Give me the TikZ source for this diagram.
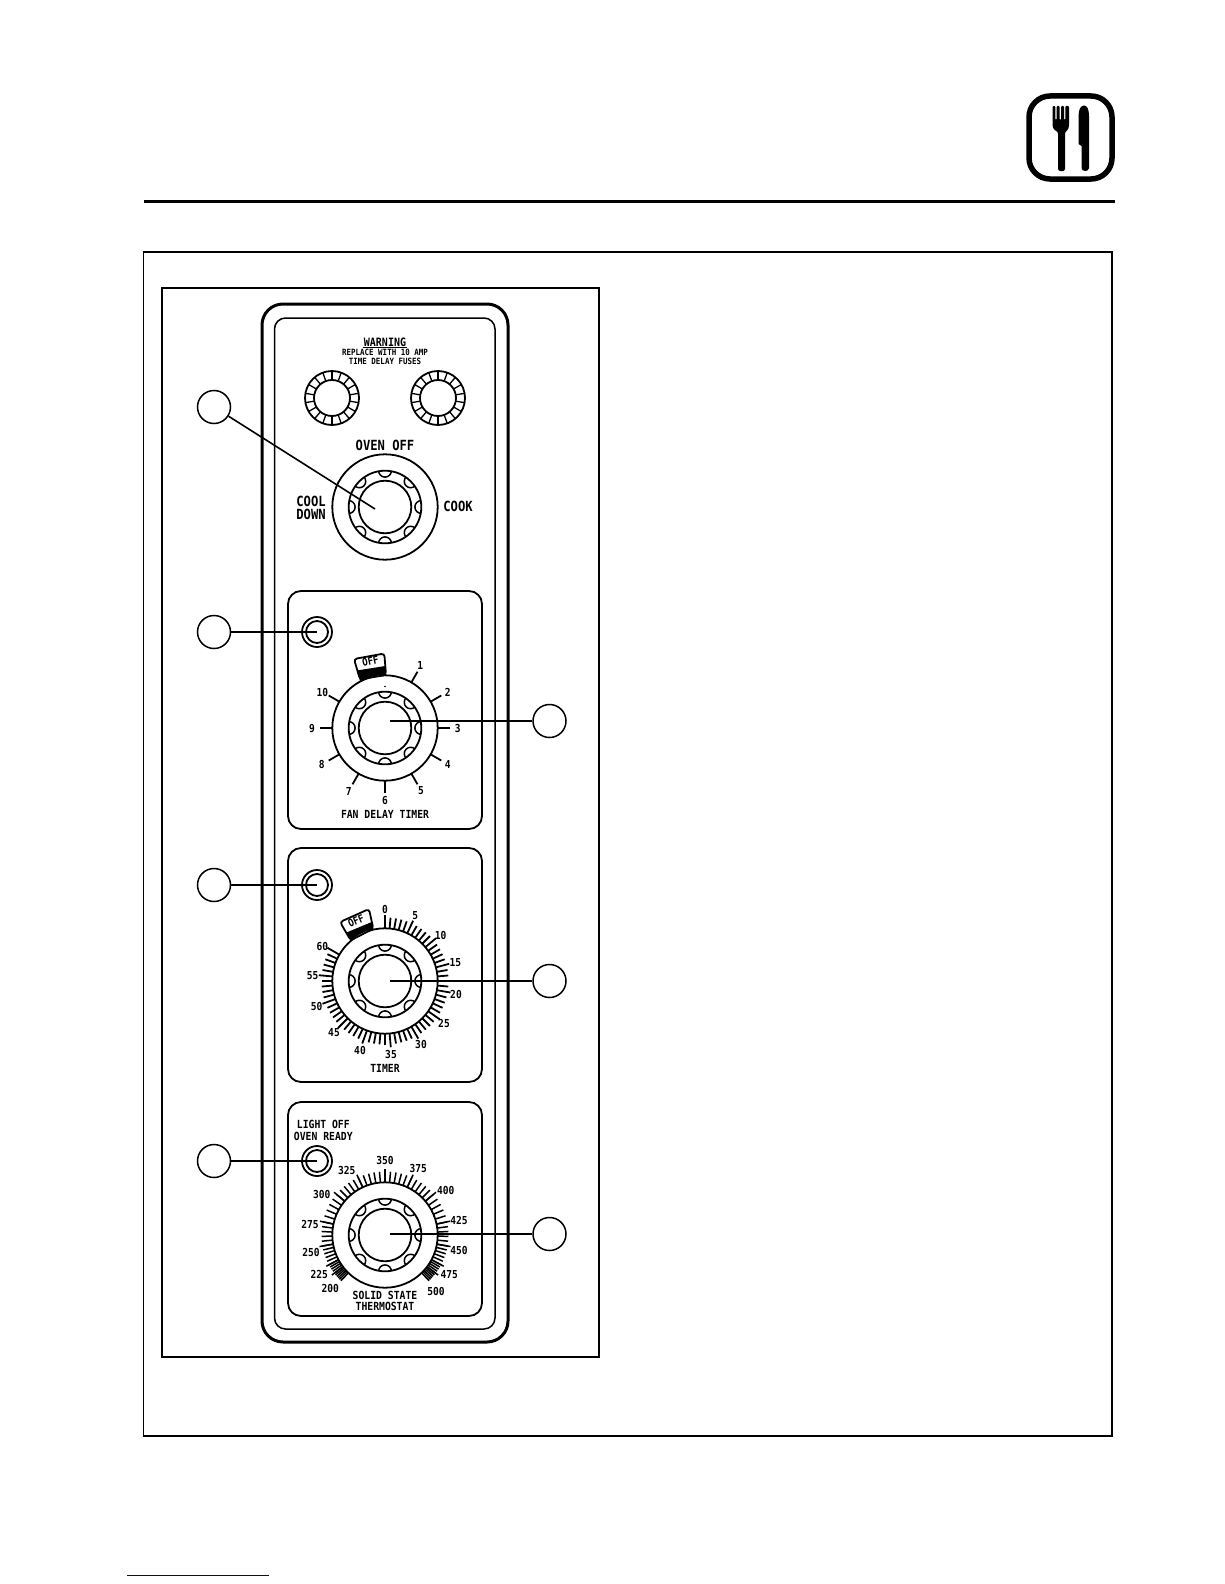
\documentclass[tikz,border=0pt]{standalone}
\usepackage{fontspec}
\newfontfamily\cadface{DejaVu Sans Mono Bold}[FakeStretch=0.87]
\newcommand{\cadfont}[1]{\fontsize{#1}{#1}\selectfont\cadface}
\tikzset{
  thinl/.style={line width=1.5pt},
  midl/.style={line width=1.8pt},
  thickl/.style={line width=3pt},
  tickl/.style={line width=1.8pt},
  leadc/.style={circle,draw,line width=1.5pt,minimum size=33pt,inner sep=0pt,fill=white},
  leadl/.style={line width=1.6pt},
  big/.style={font=\cadfont{14},inner sep=0pt},
  dialt/.style={font=\cadfont{11},inner sep=0pt},
  capt/.style={font=\cadfont{11.2},inner sep=0pt},
  tagt/.style={font=\cadfont{10.5},inner sep=0pt},
  tiny/.style={font=\cadfont{8.6},inner sep=0pt},
  warn/.style={font=\cadfont{11.5},inner sep=1pt},
  knob/.pic={
    \draw[midl] (0,0) circle[radius=52.7];
    \draw[midl] (0,0) circle[radius=36.3];
    \draw[midl] (0,0) circle[radius=26.3];
    \begin{scope}
      \clip (0,0) circle[radius=36.3];
      \foreach \a in {0,45,...,315}
        \draw[thinl] (\a:36.3) circle[radius=6.4];
    \end{scope}
  },
  fuse/.pic={
    \draw[midl] (0,0) circle[radius=27];
    \draw[midl] (0,0) circle[radius=18];
    \foreach \a in {10,30,...,350}
      \draw[line width=1.3pt] (\a:18) -- (\a:27);
  }
}
\begin{document}
\begin{tikzpicture}[x=1pt,y=-1pt,line cap=butt]
\useasboundingbox (0,0) rectangle (1224,1584);
\fill[white] (0,0) rectangle (1224,1584);

% logo
\draw[line width=5.5pt,rounded corners=21pt] (1029,96) rectangle (1112,179);
\fill[rounded corners=1pt] (1052.5,106) -- (1055.3,106) -- (1055.3,120) -- (1056.6,120) -- (1056.6,106) -- (1059.6,106) -- (1059.6,120) -- (1061,120) -- (1061,106) -- (1064,106) -- (1064,120) -- (1065.4,120) -- (1065.4,106) -- (1069,106) -- (1069,124) .. controls (1069,130) and (1066,131) .. (1065,133) -- (1065,168) .. controls (1065,172) and (1058,172) .. (1058,168) -- (1058,133) .. controls (1057,131) and (1052.5,130) .. (1052.5,124) -- cycle;
\fill (1078.5,116) .. controls (1078.5,109) and (1081,105.5) .. (1084,105.5) .. controls (1087,105.5) and (1089,109) .. (1089,116) -- (1089,168) .. controls (1089,172) and (1081.5,172) .. (1081.5,168) -- (1081.5,146) -- (1078.5,144) -- cycle;

% rules and frames
\draw[thickl] (144,201) -- (1115,201);
\draw[line width=1.6pt] (143.5,252) rectangle (1112,1436);
\draw[line width=2pt] (161.5,288) rectangle (599,1357);
\draw[line width=1.6pt,color=blue!50!black] (127,1575.5) -- (269,1575.5);

% panel
\draw[thickl,rounded corners=21pt] (262,304) rectangle (508,1342);
\draw[thinl,rounded corners=11pt] (274.5,318) rectangle (495,1329);
\draw[midl,rounded corners=13pt] (288,591) rectangle (482,829);
\draw[midl,rounded corners=13pt] (288,848) rectangle (482,1082);
\draw[midl,rounded corners=13pt] (288,1102) rectangle (482,1316);

% warning block
\node[warn] (wtitle) at (385,342) {WARNING};
\draw[line width=1pt] (wtitle.south west) -- (wtitle.south east);
\node[tiny] (wline1) at (385,352.5) {REPLACE WITH 10 AMP};
\node[tiny] (wline2) at (385,361) {TIME DELAY FUSES};
\pic at (332,398) {fuse};
\pic at (438,398) {fuse};

% selector
\pic at (385,507) {knob};
\node[big] (toff) at (385,445) {OVEN OFF};
\node[big] (tcool) at (311,501) {COOL};
\node[big] (tdown) at (311,514) {DOWN};
\node[big] (tcook) at (458,506) {COOK};

% lamps
\foreach \y in {632,885,1161}{
  \draw[midl] (317,\y) circle[radius=15];
  \draw[midl] (317,\y) circle[radius=11];
}

% fan delay timer
\pic at (385,728) {knob};
\begin{scope}[shift={(385,728)}]
  \foreach \t in {0,30,60,90,120,150,180,210,300,330}
    \draw[tickl] (\t:52.7) -- (\t:65);
  \fill (0,-41.5) circle[radius=.8];
  \draw[midl,fill=white,rounded corners=3pt] (-31,-69) -- (-0.7,-74.5) -- (1,-53) -- (-25,-48.7) -- cycle;
  \fill (-28.3,-57.5) -- (0.2,-62) -- (1,-53) .. controls (-8,-53) and (-18,-50.5) .. (-25,-47) -- cycle;
  \node[tagt,rotate=12] (fanoff) at (-14.5,-66.5) {OFF};
\end{scope}
\foreach \n/\x/\y/\s in {1/420.3/665.7/1,2/447.7/692.3/2,3/457.7/728.3/3,4/447.7/764.3/4,5/421/791/5,6/385/800.7/6,7/348.7/791/7,8/321.7/764.3/8,9/312/728.3/9,10/322.3/692.3/10}
  \node[dialt] (fan\n) at (\x,\y) {\s};
\node[capt] (fancap) at (385,814) {FAN DELAY TIMER};

% timer
\pic at (385,981) {knob};
\begin{scope}[shift={(385,981)}]
  \foreach \m in {0,...,60}{
    \pgfmathsetmacro{\ang}{5*\m-90}
    \pgfmathtruncatemacro{\isfive}{mod(\m,5)==0 ? 1 : 0}
    \ifnum\isfive=1\relax
      \draw[tickl] (\ang:52.7) -- (\ang:66.5);
    \else
      \draw[tickl] (\ang:52.7) -- (\ang:63.5);
    \fi
  }
  \draw[midl,fill=white,rounded corners=3pt] (-45,-59) -- (-16,-72) -- (-11.7,-52.3) -- (-34.3,-40.7) -- cycle;
  \fill (-39,-48.3) -- (-13.3,-59) -- (-11.7,-52) .. controls (-20,-50) and (-28,-46) .. (-34.3,-40) -- cycle;
  \node[tagt,rotate=24] (timoff) at (-29,-60) {OFF};
\end{scope}
\foreach \s/\x/\y in {0/385/909.3,5/415.3/916,10/440.7/935.3,15/455.3/962.7,20/456/994.7,25/444/1023.3,30/421/1044.3,35/391/1054,40/360/1050,45/334/1033,50/316.7/1006.7,55/312.7/976,60/322.3/946}
  \node[dialt] (tim\s) at (\x,\y) {\s};
\node[capt] (timcap) at (385,1068.3) {TIMER};

% thermostat
\pic at (385,1235) {knob};
\begin{scope}[shift={(385,1235)}]
  \foreach \a/\b/\n in {0/25/5,25/50/5,50/78/5,78/100/5,100/118/5,118/127/4,127/136/5}{
    \pgfmathsetmacro{\stepa}{(\b-\a)/\n}
    \foreach \k in {0,...,\n}{
      \pgfmathsetmacro{\ang}{\a+\k*\stepa}
      \pgfmathtruncatemacro{\maj}{\k==0 ? 1 : 0}
      \pgfmathsetmacro{\rr}{\maj==1 ? 66.5 : 63.5}
      \draw[line width=1.5pt] (\ang-90:52.7) -- (\ang-90:\rr);
      \draw[line width=1.5pt] (-\ang-90:52.7) -- (-\ang-90:\rr);
    }
  }
\end{scope}
\foreach \s/\x/\y in {350/385/1160,375/418.3/1168.3,400/445.7/1190.3,425/459/1220.7,450/459/1250.3,475/449.3/1274.3,500/436/1291.7,325/346.7/1170,300/321.7/1194.3,275/310/1224.7,250/311/1252.3,225/319.3/1274,200/330.3/1288.3}
  \node[dialt] (st\s) at (\x,\y) {\s};
\node[capt] (stcap1) at (385,1295.5) {SOLID STATE};
\node[capt] (stcap2) at (385,1306.7) {THERMOSTAT};
\node[capt] (light1) at (323.3,1124.3) {LIGHT OFF};
\node[capt] (light2) at (323.3,1136.3) {OVEN READY};

% leaders
\node[leadc] (c1) at (214,407) {};
\node[leadc] (c2) at (214,632) {};
\node[leadc] (c3) at (214,885) {};
\node[leadc] (c4) at (214,1161) {};
\node[leadc] (c5) at (549.5,721) {};
\node[leadc] (c6) at (549.5,981) {};
\node[leadc] (c7) at (549.5,1234) {};
\coordinate (e1) at (375,509);
\coordinate (e2) at (317,632);
\coordinate (e3) at (317,885);
\coordinate (e4) at (317,1161);
\coordinate (e5) at (390,721);
\coordinate (e6) at (390,981);
\coordinate (e7) at (390,1234);
\foreach \i in {1,...,7}
  \draw[leadl] (c\i) -- (e\i);
\end{tikzpicture}
\end{document}
